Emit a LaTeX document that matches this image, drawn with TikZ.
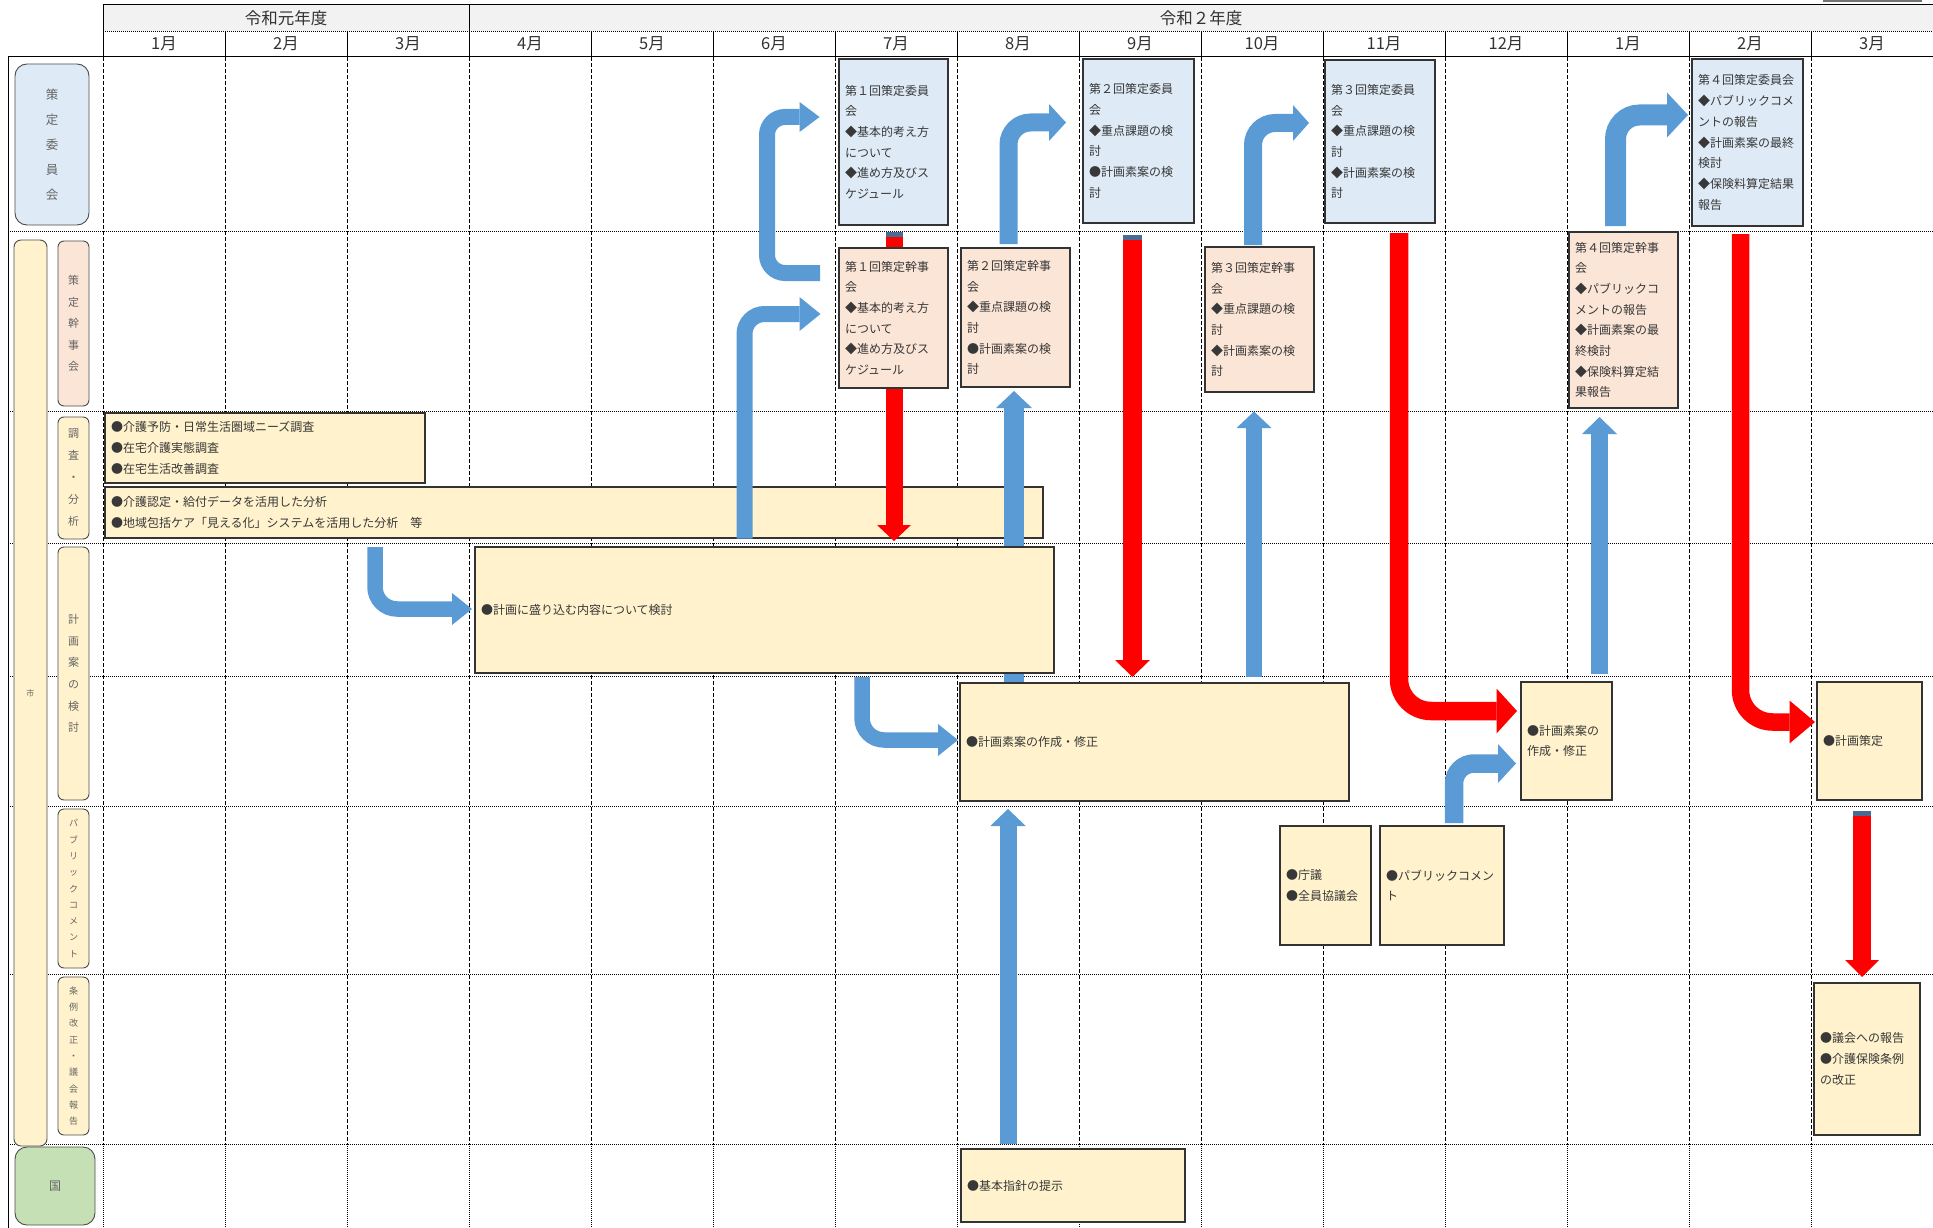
\documentclass[tikz,border=0pt]{standalone}
\usepackage{fontspec}
\setmainfont{Noto Sans CJK JP}
\usetikzlibrary{arrows.meta}
\definecolor{iinblue}{HTML}{DEEBF7}
\definecolor{kanpeach}{HTML}{FBE5D6}
\definecolor{shiyellow}{HTML}{FFF2CC}
\definecolor{kunigreen}{HTML}{C5E0B4}
\definecolor{headgray}{HTML}{F2F2F2}
\definecolor{arrblue}{HTML}{5B9BD5}
\definecolor{arrred}{HTML}{FF0000}
\definecolor{capblue}{HTML}{4A6A94}
\newcommand{\boxfont}{\fontsize{12}{20.7}\selectfont}
\tikzset{
  gridv/.style={line width=0.8pt, dash pattern=on 4pt off 2pt},
  gridh/.style={line width=0.7pt, dash pattern=on 1pt off 1pt},
  cbox/.style={rectangle, draw=black!80, line width=1.2pt, inner xsep=6pt,
    inner ysep=0pt, align=left, font=\boxfont, text=black!78},
  lbl/.style={rectangle, rounded corners=6pt, draw=black!70, line width=0.9pt,
    align=center, inner sep=0pt, text=black!60},
  monthlbl/.style={font=\fontsize{16.5}{16.5}\selectfont, text=black!80},
  barr/.style={draw=arrblue, rounded corners=20pt},
  rarr/.style={draw=arrred, rounded corners=32pt}
}
\begin{document}
\begin{tikzpicture}[x=1pt, y=-1pt]
\useasboundingbox (0,0) rectangle (1933,1228);

% header
\fill[headgray] (103,5) rectangle (1933,31);
\draw[black!55, line width=2pt] (1824,-4) rectangle (1921,1);
\draw[line width=1pt] (103,57) -- (103,5) -- (1933,5);
\draw[line width=1pt] (469,5) -- (469,31);
\draw[gridh] (103,31) -- (1933,31);
\foreach \i in {1,...,14}
  \draw[line width=1pt] (103+122*\i,31) -- (103+122*\i,57);
\draw[line width=1pt] (8,57) -- (1933,57);
\draw[line width=1pt] (8,57) -- (8,1228);
\node[monthlbl, font=\fontsize{16.5}{16.5}\selectfont] (year1) at (286,18) {令和元年度};
\node[monthlbl, font=\fontsize{16.5}{16.5}\selectfont] (year2) at (1201,18) {令和２年度};
\foreach \m [count=\i from 0] in {1,2,3,4,5,6,7,8,9,10,11,12,1,2,3}
  \node[monthlbl] (mon\i) at (164+122*\i,44) {\m 月};

% grid
\foreach \i in {0,...,14} {
  \draw[gridv] (103+122*\i,57) -- (103+122*\i,1144);
  \draw[gridh] (103+122*\i,1144) -- (103+122*\i,1228);
}
\foreach \y in {231,411,543,676,806,974,1144}
  \draw[gridh] (8,\y) -- (1933,\y);

% row labels
\node[lbl, fill=iinblue, rounded corners=12pt, minimum width=74pt, minimum height=161pt,
  font=\fontsize{12.5}{25}\selectfont] (liin) at (52,144.5) {策\\定\\委\\員\\会};
\node[lbl, fill=shiyellow, rounded corners=7pt, minimum width=33pt, minimum height=906pt,
  font=\fontsize{8}{8}\selectfont] (lshi) at (30.5,693) {市};
\node[lbl, fill=kanpeach, minimum width=31pt, minimum height=165pt,
  font=\fontsize{11}{21.5}\selectfont] (lkan) at (73.5,323.5) {策\\定\\幹\\事\\会};
\node[lbl, fill=shiyellow, minimum width=31pt, minimum height=122pt,
  font=\fontsize{11}{22}\selectfont] (lchosa) at (73.5,478) {調\\査\\・\\分\\析};
\node[lbl, fill=shiyellow, minimum width=31pt, minimum height=253pt,
  font=\fontsize{11}{21.6}\selectfont] (lkeikaku) at (73.5,673.5) {計\\画\\案\\の\\検\\討};
\node[lbl, fill=shiyellow, minimum width=31pt, minimum height=159pt,
  font=\fontsize{9}{16.3}\selectfont] (lpub) at (73.5,888.5) {パ\\ブ\\リ\\ッ\\ク\\コ\\メ\\ン\\ト};
\node[lbl, fill=shiyellow, minimum width=31pt, minimum height=158pt,
  font=\fontsize{9}{16.3}\selectfont] (ljorei) at (73.5,1056) {条\\例\\改\\正\\・\\議\\会\\報\\告};
\node[lbl, fill=kunigreen, rounded corners=12pt, minimum width=80pt, minimum height=78pt,
  font=\fontsize{12}{12}\selectfont] (lkuni) at (55,1186) {国};

% survey boxes (under the arrows)
\node[cbox, fill=shiyellow, text width=308pt, minimum height=70pt] (chosa1) at (265,448)
  {●介護予防・日常生活圏域ニーズ調査\\●在宅介護実態調査\\●在宅生活改善調査};
\node[cbox, fill=shiyellow, text width=926pt, minimum height=51pt] (chosa2) at (574,512.5)
  {●介護認定・給付データを活用した分析\\●地域包括ケア「見える化」システムを活用した分析　等};

% arrow ends
\coordinate (a1s) at (820,273);   \coordinate (a1e) at (819.5,117);
\coordinate (a2e) at (820.5,314);
\coordinate (a3s) at (1008.5,244); \coordinate (a3e) at (1066,122.5);
\coordinate (a4s) at (1253,245);   \coordinate (a4e) at (1309,123);
\coordinate (a5s) at (1615.5,226); \coordinate (a5e) at (1688,115);
\coordinate (a6e) at (1014,391);
\coordinate (a7s) at (1254,677);   \coordinate (a7e) at (1254,411.5);
\coordinate (a8s) at (1454,823);   \coordinate (a8e) at (1516,763.5);
\coordinate (a9s) at (375,547);    \coordinate (a9e) at (472,609);
\coordinate (a10s) at (862,677);   \coordinate (a10e) at (958,740);
\coordinate (a11s) at (1008,1144); \coordinate (a11e) at (1008,809);
\coordinate (a12s) at (1599.5,674); \coordinate (a12e) at (1599.5,417);
\coordinate (r1s) at (894,232);    \coordinate (r1e) at (894,541);
\coordinate (r2s) at (1132.5,235); \coordinate (r2e) at (1132.5,677);
\coordinate (r3s) at (1399,233);   \coordinate (r3e) at (1517,711);
\coordinate (r4s) at (1740.5,234); \coordinate (r4e) at (1815,722);
\coordinate (r5s) at (1862,811);   \coordinate (r5e) at (1862,977);

% blue arrows
\draw[barr, rounded corners=18pt, line width=16pt, -{Triangle[length=20pt,width=30pt,line width=0pt]}]
  (a1s) -- (767,273) -- (767,117) -- (a1e);
\draw[barr, line width=16pt, -{Triangle[length=21pt,width=34pt,line width=0pt]}]
  (chosa2.south -| 744.5,0) -- (744.5,314) -- (a2e);
\draw[barr, rounded corners=22pt, line width=18pt, -{Triangle[length=17pt,width=37pt,line width=0pt]}]
  (a3s) -- (1008.5,122.5) -- (a3e);
\draw[barr, rounded corners=22pt, line width=18pt, -{Triangle[length=16pt,width=36pt,line width=0pt]}]
  (a4s) -- (1253,123) -- (a4e);
\draw[barr, rounded corners=24pt, line width=21pt, -{Triangle[length=21pt,width=45pt,line width=0pt]}]
  (a5s) -- (1615.5,115) -- (a5e);
\draw[barr, line width=20pt, -{Triangle[length=17pt,width=36pt,line width=0pt]}]
  (1014,683) -- (a6e);
\draw[barr, line width=16pt, -{Triangle[length=16.5pt,width=35pt,line width=0pt]}]
  (a7s) -- (a7e);
\draw[barr, line width=18.5pt, -{Triangle[length=18pt,width=39pt,line width=0pt]}]
  (a8s) -- (1454,763.5) -- (a8e);
\draw[barr, rounded corners=22pt, line width=15.5pt, -{Triangle[length=20pt,width=32pt,line width=0pt]}]
  (a9s) -- (375,609) -- (a9e);
\draw[barr, rounded corners=22pt, line width=15.5pt, -{Triangle[length=20pt,width=32pt,line width=0pt]}]
  (a10s) -- (862,740) -- (a10e);
\draw[barr, line width=17pt, -{Triangle[length=17pt,width=35.5pt,line width=0pt]}]
  (a11s) -- (a11e);
\draw[barr, line width=17pt, -{Triangle[length=17pt,width=35pt,line width=0pt]}]
  (a12s) -- (a12e);

% red arrows
\draw[rarr, line width=17pt, -{Triangle[length=16pt,width=34pt,line width=0pt]}] (r1s) -- (r1e);
\draw[rarr, line width=19pt, -{Triangle[length=17pt,width=35pt,line width=0pt]}] (r2s) -- (r2e);
\draw[rarr, line width=18.5pt, -{Triangle[length=20.5pt,width=45pt,line width=0pt]}]
  (r3s) -- (1399,711) -- (r3e);
\draw[rarr, line width=17.5pt, -{Triangle[length=25.5pt,width=43pt,line width=0pt]}]
  (r4s) -- (1740.5,722) -- (r4e);
\draw[rarr, line width=18pt, -{Triangle[length=17pt,width=34pt,line width=0pt]}] (r5s) -- (r5e);
\fill[capblue] (885.5,232) rectangle (902.5,237);
\fill[capblue] (1123,235) rectangle (1142,240);
\fill[capblue] (1853,811) rectangle (1871,816);

% committee meetings
\node[cbox, fill=iinblue, text width=97pt, minimum height=166pt] (iin1) at (893.5,142)
  {第１回策定委員\\会\\◆基本的考え方\\について\\◆進め方及びス\\ケジュール};
\node[cbox, fill=iinblue, text width=99pt, minimum height=164pt] (iin2) at (1138.5,141)
  {第２回策定委員\\会\\◆重点課題の検\\討\\●計画素案の検\\討};
\node[cbox, fill=iinblue, text width=98pt, minimum height=163pt] (iin3) at (1380,141.5)
  {第３回策定委員\\会\\◆重点課題の検\\討\\◆計画素案の検\\討};
\node[cbox, fill=iinblue, text width=99pt, minimum height=167pt] (iin4) at (1747.5,142.5)
  {第４回策定委員会\\◆パブリックコメ\\ントの報告\\◆計画素案の最終\\検討\\◆保険料算定結果\\報告};

% executive meetings
\node[cbox, fill=kanpeach, text width=97pt, minimum height=140pt] (kan1) at (893.5,318)
  {第１回策定幹事\\会\\◆基本的考え方\\について\\◆進め方及びス\\ケジュール};
\node[cbox, fill=kanpeach, text width=97pt, minimum height=139pt] (kan2) at (1015.5,317.5)
  {第２回策定幹事\\会\\◆重点課題の検\\討\\●計画素案の検\\討};
\node[cbox, fill=kanpeach, text width=97pt, minimum height=145pt] (kan3) at (1259.5,319.5)
  {第３回策定幹事\\会\\◆重点課題の検\\討\\◆計画素案の検\\討};
\node[cbox, fill=kanpeach, text width=97pt, minimum height=176pt] (kan4) at (1623.5,320)
  {第４回策定幹事\\会\\◆パブリックコ\\メントの報告\\◆計画素案の最\\終検討\\◆保険料算定結\\果報告};

% plan drafting
\node[cbox, fill=shiyellow, text width=567pt, minimum height=126pt] (kento) at (764.5,610)
  {●計画に盛り込む内容について検討};
\node[cbox, fill=shiyellow, text width=377pt, minimum height=118pt] (soan1) at (1154.5,742)
  {●計画素案の作成・修正};
\node[cbox, fill=shiyellow, text width=79pt, minimum height=118pt] (soan2) at (1566.5,741)
  {●計画素案の\\作成・修正};
\node[cbox, fill=shiyellow, text width=93pt, minimum height=118pt] (sakutei) at (1869.5,741)
  {●計画策定};
\node[cbox, fill=shiyellow, text width=79pt, minimum height=119pt] (chogi) at (1325.5,885.5)
  {●庁議\\●全員協議会};
\node[cbox, fill=shiyellow, text width=112pt, minimum height=119pt] (pubcom) at (1442,885.5)
  {●パブリックコメン\\ト};
\node[cbox, fill=shiyellow, text width=94pt, minimum height=152pt] (gikai) at (1867,1059)
  {●議会への報告\\●介護保険条例\\の改正};
\node[cbox, fill=shiyellow, text width=212pt, minimum height=73pt] (shishin) at (1073,1185.5)
  {●基本指針の提示};
\end{tikzpicture}
\end{document}
